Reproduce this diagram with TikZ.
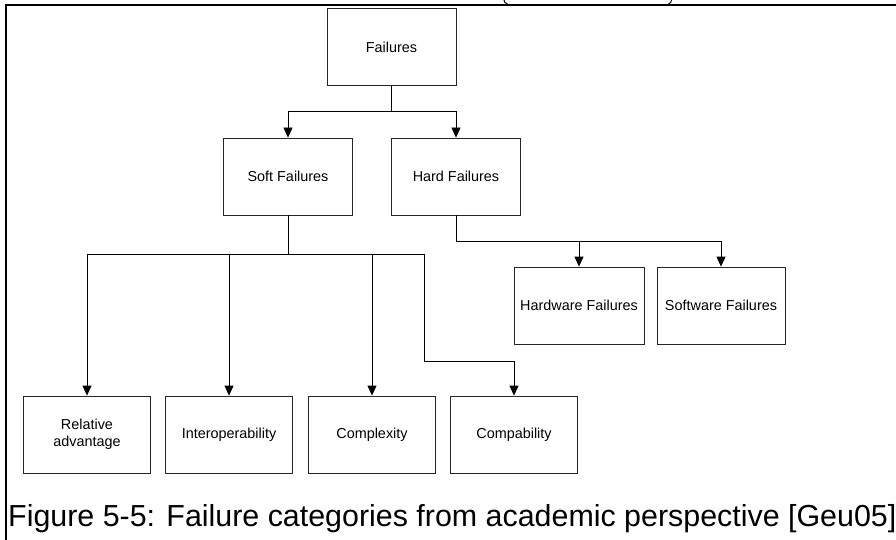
\documentclass[tikz,border=0pt]{standalone}
\usepackage{fontspec}
\setmainfont{Liberation Sans}
\usetikzlibrary{arrows.meta}
\begin{document}
\begin{tikzpicture}[x=1pt,y=-1pt,
  box/.style={draw=black!85, line width=0.8pt, minimum width=129pt, minimum height=77pt,
    inner sep=2pt, align=center, font=\fontsize{14.4}{17}\selectfont},
  link/.style={line width=0.8pt},
  arr/.style={link, -{Triangle[length=10pt,width=9pt]}},
  frameline/.style={line width=2pt}]
\useasboundingbox (0,0) rectangle (896,540);
\fill[white] (0,0) rectangle (896,540);

% page frame and the clipped remains of a heading above it
\draw[frameline] (5,5) -- (897,5);
\draw[frameline] (6,4) -- (6,541);
\draw[line width=1pt] (504,0) .. controls (504.5,2.5) .. (507.5,4);
\draw[line width=1pt] (671.5,0) .. controls (671,2.5) .. (668.5,4);

% boxes
\node[box] (fail) at (391.5,47) {Failures};
\node[box] (soft) at (288,176.5) {Soft Failures};
\node[box] (hard) at (456,176.5) {Hard Failures};
\node[box, minimum width=130pt] (hw) at (579,305.5) {Hardware Failures};
\node[box, minimum width=128pt] (sw) at (721,305.5) {Software Failures};
\node[box, minimum width=127pt] (ra) at (87,434.5) {Relative\\advantage};
\node[box, minimum width=127pt] (io) at (229,434.5) {Interoperability};
\node[box, minimum width=127pt] (cx) at (372,434.5) {Complexity};
\node[box, minimum width=127pt] (cp) at (514,434.5) {Compability};

% junction points of the tree
\coordinate (fj) at (fail.south |- 0,111);
\coordinate (sj) at (soft.south |- 0,254);
\coordinate (hj) at (hard.south |- 0,241);
\coordinate (cpk) at (424,361);

% Failures -> Soft / Hard
\draw[link] (fail.south) -- (fj);
\draw[arr] (fj) -| (soft.north);
\draw[arr] (fj) -| (hard.north);

% Hard -> Hardware / Software
\draw[link] (hard.south) -- (hj);
\draw[arr] (hj) -| (hw.north);
\draw[arr] (hj) -| (sw.north);

% Soft -> the four soft categories
\draw[link] (soft.south) -- (sj);
\draw[arr] (sj) -| (ra.north);
\draw[arr] (sj) -| (io.north);
\draw[arr] (sj) -| (cx.north);
\draw[arr] (sj) -| (cpk) -| (cp.north);

% caption
\node[anchor=base west, inner sep=0pt] (cap) at (8,526)
  {\fontsize{30.4}{36}\selectfont Figure 5-5: Failure categories from academic perspective [Geu05]};
\end{tikzpicture}
\end{document}
